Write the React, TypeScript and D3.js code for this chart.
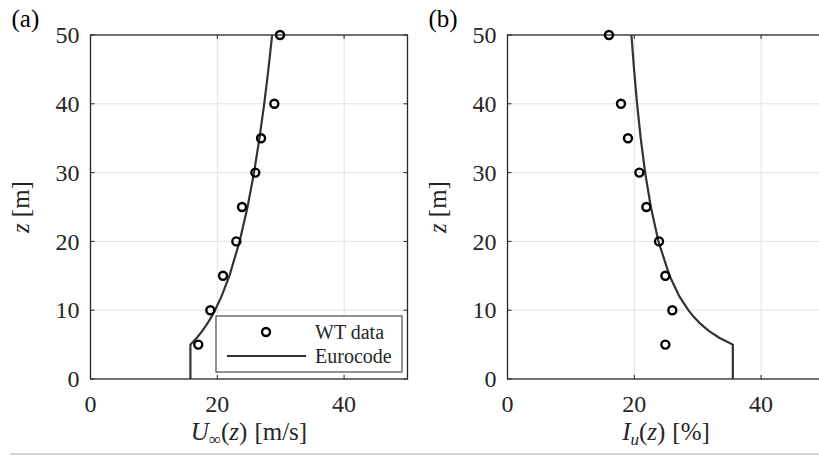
import React from "react";
import * as d3 from "d3";

// wind tunnel measurements
const wtHeights = [5, 10, 15, 20, 25, 30, 35, 40, 50];
const wtSpeed = [17.0, 18.9, 20.9, 23.0, 23.9, 26.0, 26.9, 29.0, 29.9];
const wtTurb = [24.9, 26.0, 24.9, 23.9, 21.9, 20.8, 19.0, 17.9, 16.0];

// Eurocode profile
const ecHeights = [0, 5, 6, 7, 8, 9, 10, 12, 15, 20, 25, 30, 35, 40, 45, 50];
const ecSpeed = [15.76, 15.76, 16.78, 17.64, 18.39, 19.05, 19.64, 20.66, 21.91, 23.52, 24.77, 25.79, 26.65, 27.4, 28.06, 28.65];
const ecTurb = [35.54, 35.54, 33.38, 31.75, 30.46, 29.4, 28.52, 27.11, 25.56, 23.81, 22.61, 21.71, 21.01, 20.44, 19.96, 19.55];

const xTicks = [0, 20, 40];
const yTicks = [0, 10, 20, 30, 40, 50];
const xGrid = [20, 40];
const yGrid = [10, 20, 30, 40];

const FONT = "'Liberation Serif', 'DejaVu Serif', serif";
const AXIS = "#262626";
const GRID = "#e3e3e3";
const CURVE = "#333333";

const top = 35;
const bottom = 379;

type PanelProps = {
  left: number;
  label: string;
  xs: number[];
  wt: number[];
  ec: number[];
  xLabel: React.ReactNode;
  legend?: boolean;
};

const Panel = ({ left, label, xs, wt, ec, xLabel, legend }: PanelProps) => {
  const x = d3.scaleLinear().domain([0, 50]).range([left, left + 317]);
  const y = d3.scaleLinear().domain([0, 50]).range([bottom, top]);

  const line = d3
    .line<number>()
    .x((d) => x(d))
    .y((_, i) => y(ecHeights[i]));

  const x0 = x(0);
  const x1 = x(50);

  return (
    <g>
      {/* grid */}
      {xGrid.map((t) => (
        <line key={"gx" + t} x1={x(t)} x2={x(t)} y1={top} y2={bottom} stroke={GRID} strokeWidth={1} />
      ))}
      {yGrid.map((t) => (
        <line key={"gy" + t} x1={x0} x2={x1} y1={y(t)} y2={y(t)} stroke={GRID} strokeWidth={1} />
      ))}

      {/* box */}
      <rect x={x0} y={top} width={x1 - x0} height={bottom - top} fill="none" stroke={AXIS} strokeWidth={1.3} />

      {/* ticks */}
      {xTicks.map((t) => (
        <g key={"tx" + t}>
          <line x1={x(t)} x2={x(t)} y1={bottom} y2={bottom - 4} stroke={AXIS} />
          <line x1={x(t)} x2={x(t)} y1={top} y2={top + 4} stroke={AXIS} />
          <text x={x(t)} y={412} textAnchor="middle" fontFamily={FONT} fontSize={24} fill={AXIS}>
            {t}
          </text>
        </g>
      ))}
      {yTicks.map((t) => (
        <g key={"ty" + t}>
          <line x1={x0} x2={x0 + 4} y1={y(t)} y2={y(t)} stroke={AXIS} />
          <line x1={x1} x2={x1 - 4} y1={y(t)} y2={y(t)} stroke={AXIS} />
          <text x={x0 - 11} y={y(t)} dy="0.34em" textAnchor="end" fontFamily={FONT} fontSize={24} fill={AXIS}>
            {t}
          </text>
        </g>
      ))}

      {/* eurocode curve */}
      <path d={line(ec) || ""} fill="none" stroke={CURVE} strokeWidth={2.2} />

      {/* WT data */}
      {wt.map((v, i) => (
        <circle key={"p" + i} cx={x(v)} cy={y(xs[i])} r={4} fill="none" stroke="#000" strokeWidth={2.4} />
      ))}

      {/* axis labels */}
      <text x={(x0 + x1) / 2} y={440} textAnchor="middle" fontFamily={FONT} fontSize={25} fill={AXIS}>
        {xLabel}
      </text>
      <text
        transform={`translate(${x0 - 62},${(top + bottom) / 2}) rotate(-90)`}
        textAnchor="middle"
        fontFamily={FONT}
        fontSize={25}
        fill={AXIS}
      >
        <tspan fontStyle="italic">z</tspan>
        <tspan dx={6}>[m]</tspan>
      </text>
      <text x={x0 - 79} y={27} fontFamily={FONT} fontSize={25} fill="#000">
        {label}
      </text>

      {legend && (
        <g>
          <rect x={216} y={316} width={186} height={56} fill="#fff" stroke={AXIS} strokeWidth={1} />
          <circle cx={266} cy={332} r={4} fill="none" stroke="#000" strokeWidth={2.4} />
          <text x={315} y={332} dy="0.34em" fontFamily={FONT} fontSize={20} fill={AXIS}>
            WT data
          </text>
          <line x1={227} x2={306} y1={356} y2={356} stroke={CURVE} strokeWidth={2.2} />
          <text x={315} y={356} dy="0.34em" fontFamily={FONT} fontSize={20} fill={AXIS}>
            Eurocode
          </text>
        </g>
      )}
    </g>
  );
};

export default function App() {
  return (
    <svg
      width={819}
      height={457}
      style={{ position: "absolute", left: 0, top: 0, background: "#fff" }}
    >
      <rect x={0} y={0} width={819} height={457} fill="#fff" />
      <Panel
        left={90.5}
        label="(a)"
        xs={wtHeights}
        wt={wtSpeed}
        ec={ecSpeed}
        legend
        xLabel={
          <>
            <tspan fontStyle="italic">U</tspan>
            <tspan fontSize={17} dy={5}>∞</tspan>
            <tspan dy={-5}>(</tspan>
            <tspan fontStyle="italic">z</tspan>
            <tspan>)</tspan>
            <tspan dx={7}>[m/s]</tspan>
          </>
        }
      />
      <Panel
        left={507.5}
        label="(b)"
        xs={wtHeights}
        wt={wtTurb}
        ec={ecTurb}
        xLabel={
          <>
            <tspan fontStyle="italic">I</tspan>
            <tspan fontSize={17} fontStyle="italic" dy={5}>u</tspan>
            <tspan dy={-5}>(</tspan>
            <tspan fontStyle="italic">z</tspan>
            <tspan>)</tspan>
            <tspan dx={7}>[%]</tspan>
          </>
        }
      />
      <line x1={10} x2={819} y1={454} y2={454} stroke="#c8c8c8" strokeWidth={1.5} />
    </svg>
  );
}
